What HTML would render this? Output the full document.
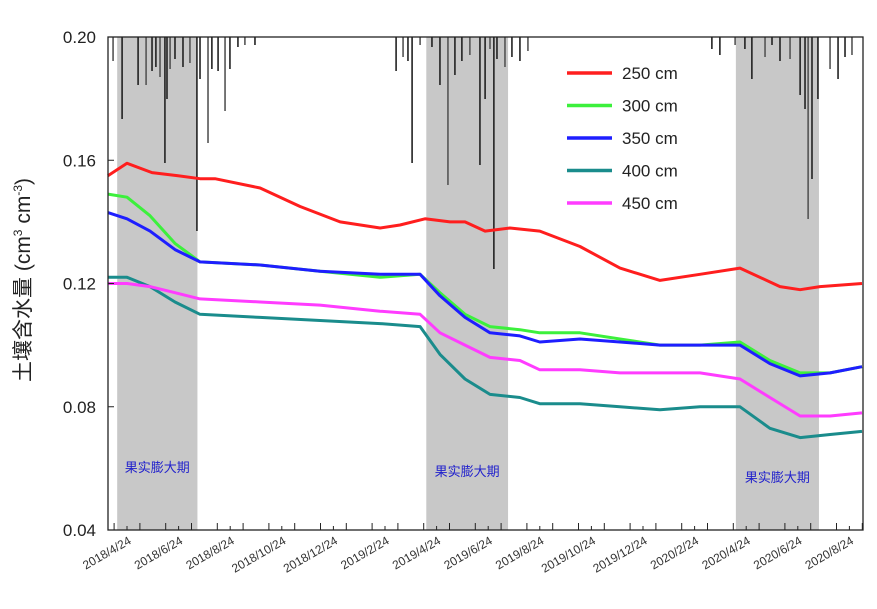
<!DOCTYPE html>
<html><head><meta charset="utf-8"><style>
body{margin:0;background:#fff;}
svg{display:block;font-family:"Liberation Sans","Noto Sans CJK SC",sans-serif;}
</style></head><body>
<svg id="chart" width="877" height="609" viewBox="0 0 877 609"></svg>
<script>
// months since 2018/4/24
const xTickLabels=["2018/4/24","2018/6/24","2018/8/24","2018/10/24","2018/12/24","2019/2/24","2019/4/24","2019/6/24","2019/8/24","2019/10/24","2019/12/24","2020/2/24","2020/4/24","2020/6/24","2020/8/24"];
const yTicks=[0.04,0.08,0.12,0.16,0.20];
const periods=[[-0.38,2.73],[11.6,14.77],[23.6,26.82]];
const periodLabel="果实膨大期";
const redDates=[-0.74,0,0.97,1.98,2.83,3.41,5.16,6.71,8.26,9.81,10.58,11.55,12.52,13.1,13.88,14.84,16.0,17.56,19.11,20.66,22.21,23.76,25.31,26.09,26.86,28.49];
const s250=[0.155,0.159,0.156,0.155,0.154,0.154,0.151,0.145,0.140,0.138,0.139,0.141,0.140,0.140,0.137,0.138,0.137,0.132,0.125,0.121,0.123,0.125,0.119,0.118,0.119,0.120];
const dates=[-0.74,0,0.89,1.86,2.83,5.16,7.48,9.81,11.36,12.13,13.1,14.07,15.23,16.0,17.56,19.11,20.66,22.21,23.76,24.92,26.09,27.25,28.49];
const s300=[0.149,0.148,0.142,0.133,0.127,0.126,0.124,0.122,0.123,0.117,0.110,0.106,0.105,0.104,0.104,0.102,0.100,0.100,0.101,0.095,0.091,0.091,0.093];
const s350=[0.143,0.141,0.137,0.131,0.127,0.126,0.124,0.123,0.123,0.116,0.109,0.104,0.103,0.101,0.102,0.101,0.100,0.100,0.100,0.094,0.090,0.091,0.093];
const s400=[0.122,0.122,0.119,0.114,0.110,0.109,0.108,0.107,0.106,0.097,0.089,0.084,0.083,0.081,0.081,0.080,0.079,0.080,0.080,0.073,0.070,0.071,0.072];
const s450=[0.120,0.120,0.119,0.117,0.115,0.114,0.113,0.111,0.110,0.104,0.100,0.096,0.095,0.092,0.092,0.091,0.091,0.091,0.089,0.083,0.077,0.077,0.078];
const rainDates=[-0.54,-0.19,0.43,0.74,0.97,1.12,1.28,1.47,1.55,1.67,1.86,2.17,2.44,2.71,2.83,3.14,3.29,3.53,3.8,3.99,4.3,4.57,4.96,
10.43,10.7,10.89,11.05,11.36,11.82,12.13,12.44,12.71,12.98,13.29,13.68,13.88,14.07,14.22,14.34,14.65,14.92,15.23,15.54,
22.67,22.98,23.57,23.95,24.22,24.73,25.0,25.31,25.7,26.09,26.28,26.4,26.55,26.78,27.25,27.56,27.83,28.1];
const rainMM=[12,41,24,24,17,15,20,63,31,16,11,15,13,97,21,53,16,17,37,16,5,4,4,
17,10,12,63,4,5,24,74,19,12,9,64,31,6,116,11,15,10,12,7,6,
9,4,6,21,10,4,12,11,29,36,91,71,31,16,21,10,9,19];
const series=[["250 cm",redDates,s250,"#ff1e1e"],["300 cm",dates,s300,"#3cf03c"],["350 cm",dates,s350,"#1e1eff"],["400 cm",dates,s400,"#1a8c8c"],["450 cm",dates,s450,"#ff3cff"]];

const L=108,R=863,T=37,B=530;
const xs=m=>127+25.8*m;
const ys=v=>T+(0.20-v)/0.16*(B-T);
const NS="http://www.w3.org/2000/svg";
const svg=document.getElementById("chart");
function mk(tag,attrs,parent){const e=document.createElementNS(NS,tag);for(const k in attrs)e.setAttribute(k,attrs[k]);(parent||svg).appendChild(e);return e;}

periods.forEach((p,i)=>{
 const r=mk("rect",{x:xs(p[0]),y:T,width:xs(p[1])-xs(p[0]),height:B-T,fill:"#c8c8c8"});
 
 
 const t=mk("text",{x:(xs(p[0])+xs(p[1]))/2,y:[472,476,482][i],"text-anchor":"middle","font-size":"13",fill:"#2222cc"});
 t.textContent=periodLabel;
 
 
});
rainDates.forEach((d,i)=>{
 const l=mk("line",{x1:xs(d),x2:xs(d),y1:T,y2:T+rainMM[i]*2,stroke:i%3==0?"#555":"#222","stroke-width":"1.6"});
 
 
});
series.forEach(s=>{
 const pts=s[1].map((d,i)=>xs(d).toFixed(1)+","+ys(s[2][i]).toFixed(1)).join(" ");
 const pl=mk("polyline",{points:pts,fill:"none",stroke:s[3],"stroke-width":"3","stroke-linejoin":"round"});
 
 
});
const frame=mk("rect",{x:L,y:T,width:R-L,height:B-T,fill:"none",stroke:"#222","stroke-width":"1.3"});


yTicks.forEach(v=>{
 mk("line",{x1:L,x2:L+6,y1:ys(v),y2:ys(v),stroke:"#222"});
 const t=mk("text",{x:96,y:ys(v)+6,"text-anchor":"end","font-size":"17",fill:"#222"});
 t.textContent=v.toFixed(2);
 
 
});
for(let m=-0.5;m<=28.5;m+=1){const x=127+25.8*m;if(x>L&&x<R)mk("line",{x1:x,x2:x,y1:B,y2:B-7,stroke:"#222"});}
xTickLabels.forEach((lab,i)=>{
 const x=xs(2*i);
 mk("line",{x1:x,x2:x,y1:B,y2:B-4,stroke:"#222"});
 const t=mk("text",{x:x+5,y:B+13,"text-anchor":"end","font-size":"12",fill:"#333",transform:`rotate(-30 ${x+5} ${B+13})`});
 t.textContent=lab;
 
 
});
const yt=mk("text",{x:30,y:280,"text-anchor":"middle","font-size":"21",fill:"#222",transform:"rotate(-90 30 280)"});
yt.innerHTML='土壤含水量 (cm<tspan dy="-8" font-size="12">3</tspan><tspan dy="8"> cm</tspan><tspan dy="-8" font-size="12">-3</tspan><tspan dy="8">)</tspan>';


const lg=mk("g",{});


mk("rect",{x:560,y:58,width:140,height:160,fill:"#fff"},lg);
series.forEach((s,i)=>{
 const y=73+32.5*i;
 mk("line",{x1:567,x2:612,y1:y,y2:y,stroke:s[3],"stroke-width":"3.5"},lg);
 const t=mk("text",{x:622,y:y+6,"font-size":"17",fill:"#222"},lg);
 t.textContent=s[0];
 
 
});
</script>
</body></html>
